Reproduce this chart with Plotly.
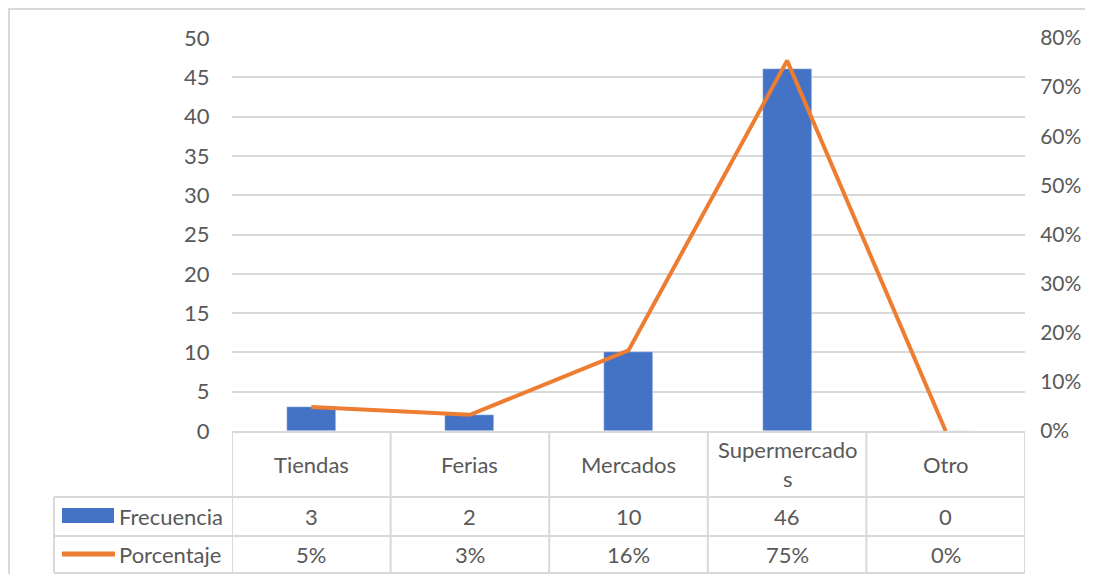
import plotly.graph_objects as go

# Datos
categorias = ["Tiendas", "Ferias", "Mercados", "Supermercados", "Otro"]
etiquetas = ["Tiendas", "Ferias", "Mercados", "Supermercado<br>s", "Otro"]
frecuencia = [3, 2, 10, 46, 0]
porcentaje = [0.049, 0.033, 0.164, 0.754, 0.0]
series = ["Frecuencia", "Porcentaje"]

AZUL = "#4472C4"
NARANJA = "#ED7D31"
GRIS = "#D9D9D9"
TEXTO = "#595959"
FUENTE = "Lato"
TAM = 22

OFF = 8  # page body margin
W, H = 1093 - 2 * OFF, 582 - 2 * OFF
# plot area, in screenshot pixels
L, R, T, B = 232, 1025, 38, 431


def py(p):
    return (B - p) / (B - T)


def px(p):
    return (p - L) / (R - L)


fig = go.Figure()
fig.add_trace(go.Bar(x=categorias, y=frecuencia, name=series[0],
                     marker_color=AZUL, width=0.31))
fig.add_trace(go.Scatter(x=categorias, y=porcentaje, name=series[1], yaxis="y2",
                         mode="lines", line=dict(color=NARANJA, width=4),
                         cliponaxis=False))

shapes = []
annotations = []
fila_top, fila1, fila2, fila_bot = B, 497, 536, 573
x_izq = 54


def linea(x0, y0, x1, y1):
    shapes.append(dict(type="line", xref="paper", yref="paper", x0=x0, y0=py(y0),
                       x1=x1, y1=py(y1), line=dict(color=GRIS, width=2), layer="below"))


# outer chart border (figure edge)
shapes.append(dict(type="rect", xref="paper", yref="paper", x0=px(OFF + 1), y0=py(OFF + 1),
                   x1=px(1120), y1=py(620), line=dict(color=GRIS, width=2), layer="below"))

# table grid
linea(px(x_izq), fila1, 1, fila1)
linea(px(x_izq), fila2, 1, fila2)
linea(px(x_izq), fila_bot, 1, fila_bot)
linea(px(x_izq), fila1, px(x_izq), fila_bot)
for i in range(len(categorias) + 1):
    shapes.append(dict(type="line", xref="x", yref="paper", x0=i - 0.5, x1=i - 0.5,
                       y0=py(fila_top), y1=py(fila_bot),
                       line=dict(color=GRIS, width=2), layer="below"))

f = dict(family=FUENTE, size=TAM, color=TEXTO)
for i, c in enumerate(categorias):
    for texto, yy in [(etiquetas[i], (fila_top + fila1) / 2),
                      (str(frecuencia[i]), (fila1 + fila2) / 2),
                      (f"{porcentaje[i]:.0%}", (fila2 + fila_bot) / 2)]:
        annotations.append(dict(x=c, xref="x", y=py(yy), yref="paper", text=texto,
                                xanchor="center", yanchor="middle", showarrow=False,
                                font=f, align="center"))

# legend keys in the table
shapes.append(dict(type="rect", xref="paper", yref="paper", x0=px(62), x1=px(114),
                   y0=py(508), y1=py(523), fillcolor=AZUL, line=dict(width=0)))
shapes.append(dict(type="line", xref="paper", yref="paper", x0=px(62), x1=px(115),
                   y0=py(554), y1=py(554), line=dict(color=NARANJA, width=5)))
for nombre, yy in zip(series, [(fila1 + fila2) / 2, (fila2 + fila_bot) / 2]):
    annotations.append(dict(x=px(117), xref="paper", y=py(yy), yref="paper", text=nombre,
                            xanchor="left", yanchor="middle", showarrow=False, font=f))

fig.update_layout(
    width=W, height=H, autosize=False,
    margin=dict(l=L - OFF, r=W - (R - OFF), t=T - OFF, b=H - (B - OFF), pad=0),
    paper_bgcolor="white", plot_bgcolor="white",
    showlegend=False, bargap=0,
    font=dict(family=FUENTE, size=TAM, color=TEXTO),
    xaxis=dict(type="category", range=[-0.5, 4.5], showticklabels=False, automargin=False,
               showline=True, linecolor=GRIS, linewidth=2, showgrid=False, fixedrange=True),
    yaxis=dict(range=[0, 50], dtick=5, showgrid=True, gridcolor=GRIS, gridwidth=1.5,
               automargin=False, zeroline=False, ticks="outside", ticklen=17,
               tickcolor="rgba(0,0,0,0)"),
    yaxis2=dict(range=[0, 0.8], dtick=0.1, tickformat=".0%", overlaying="y", side="right",
                automargin=False, showgrid=False, zeroline=False, ticks="outside",
                ticklen=10, tickcolor="rgba(0,0,0,0)", tickfont=dict(size=21)),
    shapes=shapes, annotations=annotations,
)

fig.write_html("out.html")
